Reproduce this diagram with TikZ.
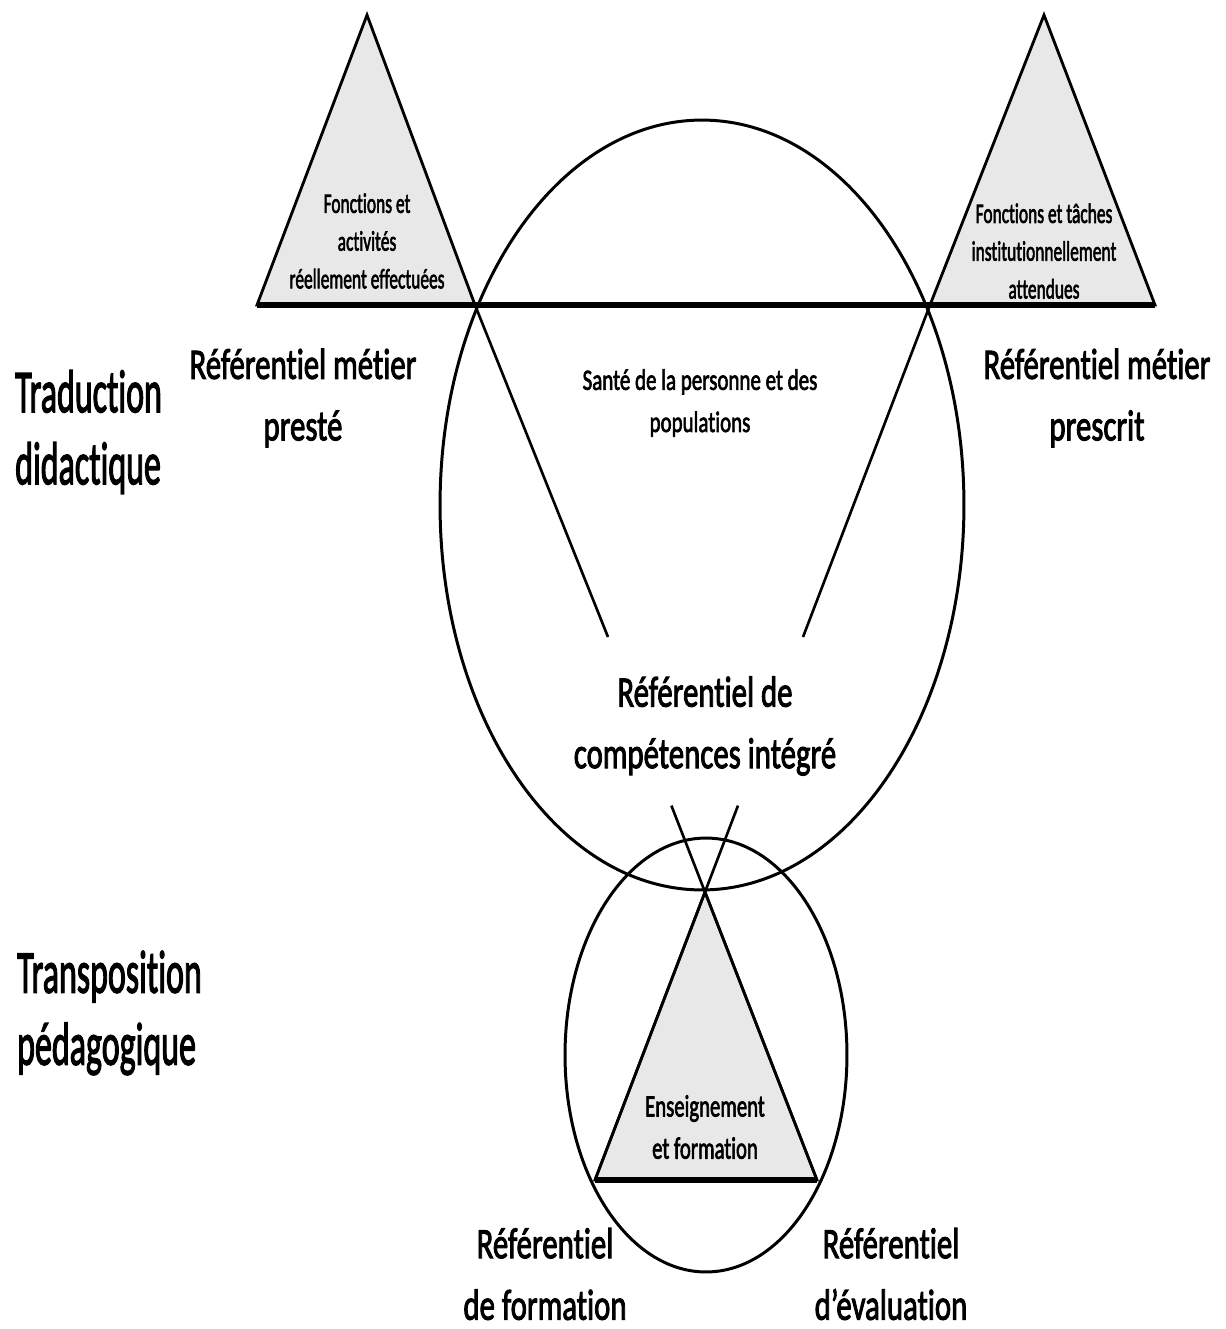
\documentclass[tikz,border=0pt]{standalone}
\usepackage{fontspec}
\setmainfont{Carlito}[FakeBold=2.6,Ligatures=NoCommon]
\usetikzlibrary{calc,positioning,backgrounds}

\begin{document}
\begin{tikzpicture}
  [
  x=0.02cm,y=-0.02cm,
  stage/.style={font=\fontsize{34.5}{41}\selectfont,xscale=0.56,align=left,inner sep=0pt,anchor=west},
  refer/.style={font=\fontsize{24.7}{35}\selectfont,xscale=0.71,align=center,inner sep=0pt},
  field/.style={font=\fontsize{16.8}{24}\selectfont,xscale=0.71,align=center,inner sep=0pt},
  inside/.style={font=\fontsize{16}{21.5}\selectfont,xscale=0.62,align=center,inner sep=0pt},
  practice/.style={font=\fontsize{17.6}{24}\selectfont,xscale=0.67,align=center,inner sep=0pt},
  pole/.style={draw,line width=1.6pt,fill=black!9},
  ring/.style={draw,line width=1.7pt},
  ray/.style={line width=1.5pt},
  groundline/.style={line width=3pt}
  ]
  \useasboundingbox (0,0) rectangle (1225,1329);
  % corners of the three triangles
  \coordinate (apexL) at (367,15);
  \coordinate (footLL) at (257,305);
  \coordinate (footLR) at (475,305);
  \coordinate (apexR) at (1044,15);
  \coordinate (footRL) at (930,305);
  \coordinate (footRR) at (1155,305);
  \coordinate (apexB) at (705,892);
  \coordinate (footBL) at (595,1180);
  \coordinate (footBR) at (817,1180);
  \coordinate (endL) at (608,637);
  \coordinate (endR) at (803,637);
  \coordinate (tipL) at ($(apexB)!-0.3!(footBR)$);
  \coordinate (tipR) at ($(apexB)!-0.3!(footBL)$);

  \filldraw[pole] (apexL) -- (footLL) -- (footLR) -- cycle;
  \filldraw[pole] (apexR) -- (footRL) -- (footRR) -- cycle;
  \filldraw[pole] (apexB) -- (footBL) -- (footBR) -- cycle;

  \draw[ring] (702,505) ellipse [x radius=5.24cm,y radius=7.7cm];
  \draw[ring] (706,1055) ellipse [x radius=2.82cm,y radius=4.34cm];

  \draw[groundline] (footLL) -- (footRR);
  \draw[groundline] (footBL) -- (footBR);
  \draw[ray] (footLR) -- (endL);
  \draw[ray] (footRL) -- (endR);
  \draw[ray] (tipL) -- (footBR);
  \draw[ray] (tipR) -- (footBL);

  \node[stage] (traduction) at (15,432) {Traduction\\didactique};
  \node[stage] (transposition) at (17,1013) {Transposition\\pédagogique};
  \node[refer] (preste) at (303,398) {Référentiel métier\\presté};
  \node[refer] (prescrit) at (1097,398) {Référentiel métier\\prescrit};
  \node[field] (sante) at (700,403) {Santé de la personne et des\\populations};
  \node[refer] (integre) at (705,726) {Référentiel de\\compétences intégré};
  \node[inside] (effectuees) at (367,241) {Fonctions et\\activités\\réellement effectuées};
  \node[inside] (attendues) at (1044,251) {Fonctions et tâches\\institutionnellement\\attendues};
  \node[practice] (enseignement) at (705,1127) {Enseignement\\et formation};
  \node[refer] (formation) at (545,1274) {Référentiel\\de formation};
  \node[refer] (evaluation) at (891,1274) {Référentiel\\d’évaluation};
\end{tikzpicture}
\end{document}
